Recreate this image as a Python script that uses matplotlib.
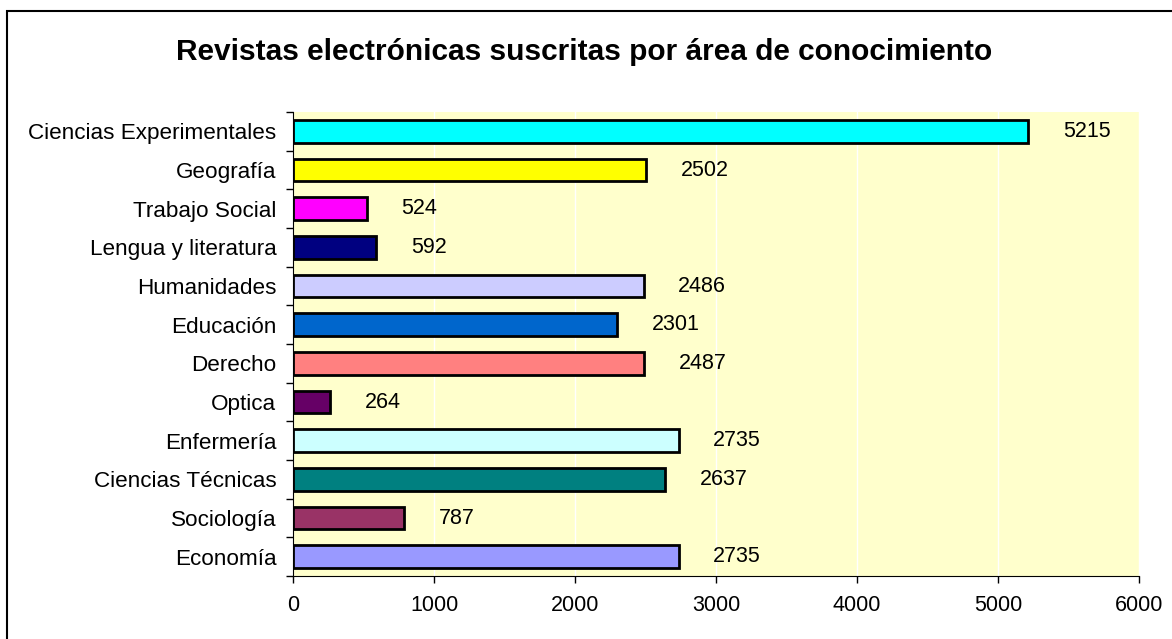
import matplotlib
matplotlib.use("Agg")
import matplotlib.pyplot as plt
from matplotlib.patches import Rectangle
import numpy as np

plt.rcParams['font.family'] = ['Liberation Sans', 'DejaVu Sans']

categories = ["Ciencias Experimentales", "Geografía", "Trabajo Social", "Lengua y literatura",
              "Humanidades", "Educación", "Derecho", "Optica", "Enfermería",
              "Ciencias Técnicas", "Sociología", "Economía"]
values = [5215, 2502, 524, 592, 2486, 2301, 2487, 264, 2735, 2637, 787, 2735]
colors = ["#00FFFF", "#FFFF00", "#FF00FF", "#000080", "#CCCCFF", "#0066CC",
          "#FF8080", "#660066", "#CCFFFF", "#008080", "#993366", "#9999FF"]
xticks = [0, 1000, 2000, 3000, 4000, 5000, 6000]
title = "Revistas electrónicas suscritas por área de conocimiento"

W, H = 1172, 639
fig = plt.figure(figsize=(W / 100, H / 100), dpi=100)
fig.patch.set_facecolor("white")

# outer chart border
fig.patches.append(Rectangle((7 / W, -0.1), 1.2, 0.1 + (1 - 11 / H), transform=fig.transFigure,
                             fill=False, edgecolor="black", linewidth=1.5))

ax = fig.add_axes([293 / W, 1 - 576 / H, (1139 - 293) / W, (576 - 112) / H])
ax.set_facecolor("#FFFFCC")

n = len(categories)
y = np.arange(n)
ax.barh(y, values, height=0.58, color=colors, edgecolor="black", linewidth=2, zorder=3)
ax.set_ylim(n - 0.5, -0.5)
ax.set_xlim(0, 6000)

for yi, v in zip(y, values):
    ax.annotate(str(v), xy=(v, yi), xytext=(25, 0), textcoords="offset points",
                ha="left", va="center", fontsize=15.5, color="black", zorder=4)

ax.set_xticks(xticks)
ax.set_xticklabels([str(t) for t in xticks], fontsize=15.5)
ax.set_yticks(y)
ax.set_yticklabels(categories, fontsize=16.2)
ax.tick_params(axis="y", which="major", length=0, pad=12)
ax.set_yticks(np.arange(n + 1) - 0.5, minor=True)
ax.tick_params(axis="y", which="minor", length=5, width=1, direction="out")
ax.tick_params(axis="x", length=5, width=1, direction="out", pad=9)

ax.grid(axis="x", color="white", linewidth=1, zorder=1)
for s in ["top", "right"]:
    ax.spines[s].set_visible(False)
ax.spines["left"].set_color("black")
ax.spines["bottom"].set_color("black")

fig.text(584 / W, 1 - 52 / H, title, ha="center", va="center", fontsize=21.5, fontweight="bold")

fig.savefig("out.png", dpi=100)
